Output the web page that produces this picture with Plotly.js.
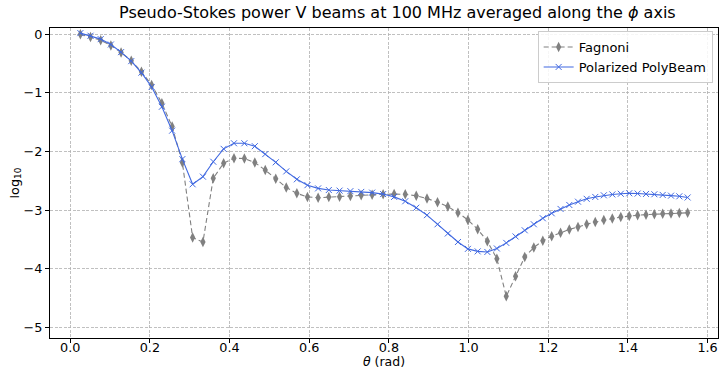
<!DOCTYPE html>
<html>
<head>
<meta charset="utf-8">
<script src="https://cdn.plot.ly/plotly-3.0.1.min.js"></script>
<style>html,body{margin:0;padding:0;background:#fff;}#chart{width:721px;height:369px;}</style>
</head>
<body>
<div id="chart"></div>
<script>
// Ring colatitudes theta (rad)
var theta = [0.02552,0.05104,0.07656,0.10211,0.12766,0.15324,0.17885,0.20448,0.23015,0.25585,
0.28160,0.30739,0.33324,0.35915,0.38511,0.41114,0.43724,0.46342,0.48967,0.51602,
0.54245,0.56898,0.59562,0.62237,0.64923,0.67621,0.70333,0.73057,0.75796,0.78551,
0.81320,0.84107,0.86868,0.89566,0.92208,0.94797,0.97339,0.99838,1.02297,1.04720,
1.07109,1.09468,1.11798,1.14102,1.16382,1.18640,1.20877,1.23096,1.25297,1.27483,
1.29654,1.31812,1.33957,1.36093,1.38218,1.40335,1.42444,1.44547,1.46644,1.48737,
1.50826,1.52912,1.54996];

var fagnoni = [0.0,-0.045,-0.10,-0.19,-0.31,-0.45,-0.64,-0.865,-1.175,-1.575,
-2.19,-3.47,-3.545,-2.457,-2.20,-2.116,-2.12,-2.19,-2.318,-2.465,
-2.615,-2.715,-2.775,-2.789,-2.778,-2.771,-2.758,-2.745,-2.738,-2.73,
-2.727,-2.732,-2.757,-2.802,-2.867,-2.94,-3.044,-3.169,-3.328,-3.532,
-3.83,-4.472,-4.13,-3.80,-3.638,-3.525,-3.448,-3.388,-3.33,-3.29,
-3.24,-3.205,-3.17,-3.145,-3.12,-3.10,-3.089,-3.078,-3.07,-3.064,
-3.058,-3.052,-3.047];

var polybeam = [0.02,-0.025,-0.083,-0.175,-0.305,-0.458,-0.655,-0.90,-1.237,-1.645,
-2.13,-2.56,-2.43,-2.175,-1.955,-1.86,-1.86,-1.91,-2.045,-2.185,
-2.34,-2.475,-2.575,-2.63,-2.658,-2.668,-2.677,-2.69,-2.702,-2.727,
-2.775,-2.85,-2.96,-3.087,-3.243,-3.40,-3.545,-3.662,-3.705,-3.715,
-3.655,-3.56,-3.45,-3.345,-3.242,-3.14,-3.055,-2.981,-2.913,-2.857,
-2.808,-2.776,-2.748,-2.733,-2.722,-2.713,-2.718,-2.725,-2.73,-2.742,
-2.754,-2.765,-2.785];

var seriesNames = ['Fagnoni', 'Polarized PolyBeam'];
var yTickVals = [0, -1, -2, -3, -4, -5];
var yTickText = ['0', '\u22121', '\u22122', '\u22123', '\u22124', '\u22125'];
var xTickVals = [0.0, 0.2, 0.4, 0.6, 0.8, 1.0, 1.2, 1.4, 1.6];
var xTickText = ['0.0', '0.2', '0.4', '0.6', '0.8', '1.0', '1.2', '1.4', '1.6'];

var font = 'DejaVu Sans, sans-serif';

var traces = [
  {
    x: theta, y: fagnoni, name: seriesNames[0], type: 'scatter', mode: 'lines+markers',
    line: {color: 'gray', width: 1.1, dash: '5px,3px'},
    marker: {symbol: 'diamond-tall', size: 7.5, color: 'gray', line: {width: 0}}
  },
  {
    x: theta, y: polybeam, name: seriesNames[1], type: 'scatter', mode: 'lines+markers',
    line: {color: 'royalblue', width: 1.1},
    marker: {symbol: 'x-thin', size: 6, color: 'royalblue', line: {width: 1, color: 'royalblue'}}
  }
];

var axisCommon = {
  showline: true, mirror: true, linecolor: '#000', linewidth: 1,
  ticks: 'outside', ticklen: 4, tickwidth: 1, tickcolor: '#000',
  showgrid: true, gridcolor: '#b0b0b0', gridwidth: 0.8, griddash: '3px,1.5px',
  zeroline: false, tickfont: {family: font, size: 12.8, color: '#000'}
};

var layout = {
  width: 721, height: 369,
  margin: {l: 50, r: 3, t: 28, b: 31, pad: 0},
  paper_bgcolor: '#fff', plot_bgcolor: '#fff',
  font: {family: font, color: '#000'},
  title: {text: 'Pseudo-Stokes power V beams at 100 MHz averaged along the <i>\u03d5</i> axis',
          font: {family: font, size: 16, color: '#000'},
          x: 0.52, xref: 'paper', xanchor: 'center', y: 0.966, yref: 'container', yanchor: 'middle'},
  xaxis: Object.assign({}, axisCommon, {
    range: [-0.0507, 1.6262], tickvals: xTickVals, ticktext: xTickText,
    ticklabelstandoff: -6,
    title: {text: '<i>\u03b8</i> (rad)', font: {family: font, size: 12.5, color: '#000'}, standoff: 4}
  }),
  yaxis: Object.assign({}, axisCommon, {
    range: [-5.183, 0.107], tickvals: yTickVals, ticktext: yTickText,
    title: {text: 'log<sub>10</sub>', font: {family: font, size: 12.8, color: '#000'}, standoff: 1}
  }),
  showlegend: true,
  legend: {x: 0.992, xanchor: 'right', y: 0.99, yanchor: 'top',
           bgcolor: 'rgba(255,255,255,0.85)', bordercolor: '#cccccc', borderwidth: 1,
           font: {family: font, size: 13, color: '#000'}, tracegroupgap: 0}
};

Plotly.newPlot('chart', traces, layout, {displayModeBar: false, staticPlot: true});
</script>
</body>
</html>
